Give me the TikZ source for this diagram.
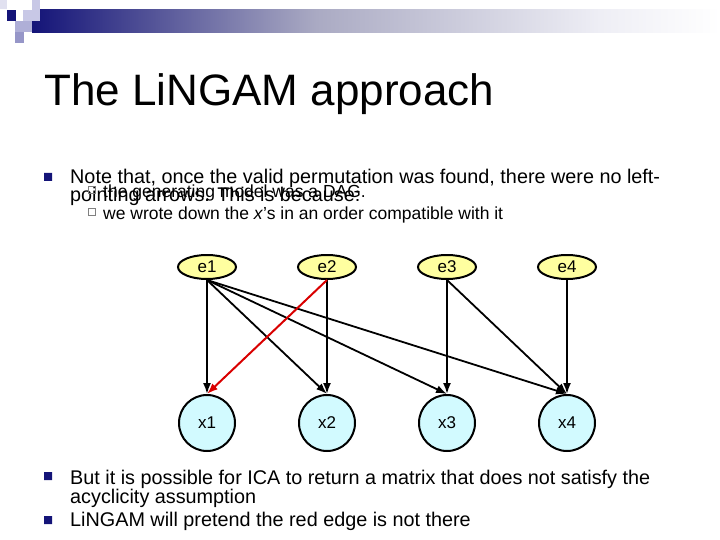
\documentclass[tikz,border=0pt]{standalone}
\usepackage{fontspec}
\setmainfont{Liberation Sans}
\usetikzlibrary{shapes.geometric,arrows.meta}
\definecolor{navy}{RGB}{20,20,120}
\definecolor{ey}{RGB}{255,255,160}
\definecolor{xc}{RGB}{210,250,255}
\definecolor{barmid}{RGB}{170,170,195}
\definecolor{barend}{RGB}{238,238,245}
\definecolor{sqa}{RGB}{225,225,240}
\definecolor{sqb}{RGB}{200,200,230}
\definecolor{sqc}{RGB}{175,175,215}
\definecolor{sqd}{RGB}{150,150,200}
\tikzset{
 enode/.style={ellipse,draw,line width=2pt,fill=ey,minimum width=58pt,minimum height=24pt,inner sep=0pt,font=\fontsize{17}{17}\selectfont},
 xnode/.style={circle,draw,line width=2pt,fill=xc,minimum size=56pt,inner sep=0pt,font=\fontsize{17}{17}\selectfont},
 arr/.style={line width=1.8pt,-{Latex[length=11pt,width=8pt]}},
 txt/.style={anchor=base west,inner sep=0pt},
 big/.style={txt,font=\fontsize{19.8}{20}\selectfont},
 small/.style={txt,font=\fontsize{17.5}{18}\selectfont},
}
\begin{document}
\begin{tikzpicture}[x=1pt,y=-1pt]
\useasboundingbox (0,0) rectangle (720,540);
% header
\shade[left color=navy,right color=barend,middle color=barmid] (32,10) rectangle (600,33);
\shade[left color=barend,right color=white] (600,10) rectangle (720,33);
\fill[sqa] (0,0) rectangle (7,9);
\fill[sqb] (32,0) rectangle (40,10);
\fill[navy] (7,10) rectangle (16,21);
\fill[sqb] (23,10) rectangle (40,21);
\fill[sqc] (15,21) rectangle (32,32);
\fill[sqd] (15,32) rectangle (24,43);
% title
\node[txt,font=\fontsize{44}{44}\selectfont] (title) at (44,106) {The LiNGAM approach};
% bullets
\fill[navy] (44,173) rectangle (52,181) (44,472) rectangle (52,480) (44,516) rectangle (52,524);
\node[big] (b1a) at (70,184) {Note that, once the valid permutation was found, there were no left-};
\node[big] (b1b) at (70,202) {pointing arrows. This is because:};
\draw[gray,line width=0.6pt] (88.5,186.5) rectangle (95.5,193.5) (88.5,208.5) rectangle (95.5,215.5);
\node[small] (s1) at (103,197) {the generating model was a DAG.};
\node[small] (s2) at (103,219) {we wrote down the \textit{x}’s in an order compatible with it};
\node[big] (b2a) at (70,484) {But it is possible for ICA to return a matrix that does not satisfy the};
\node[big] (b2b) at (70,503) {acyclicity assumption};
\node[big] (b3) at (70,526) {LiNGAM will pretend the red edge is not there};
% graph
\node[enode] (e1) at (207,267) {e1};
\node[enode] (e2) at (327,267) {e2};
\node[enode] (e3) at (447,267) {e3};
\node[enode] (e4) at (567,267) {e4};
\node[xnode] (x1) at (207,423) {x1};
\node[xnode] (x2) at (327,423) {x2};
\node[xnode] (x3) at (447,423) {x3};
\node[xnode] (x4) at (567,423) {x4};
\draw[arr] (e1.south) -- (x1.north);
\draw[arr] (e1.south) -- (x2.north);
\draw[arr] (e1.south) -- (x3.north);
\draw[arr] (e1.south) -- (x4.north);
\draw[arr] (e2.south) -- (x2.north);
\draw[arr] (e3.south) -- (x3.north);
\draw[arr] (e3.south) -- (x4.north);
\draw[arr] (e4.south) -- (x4.north);
\draw[arr,red!85!black,line width=2pt] (e2.south) -- (x1.north);
\end{tikzpicture}
\end{document}
